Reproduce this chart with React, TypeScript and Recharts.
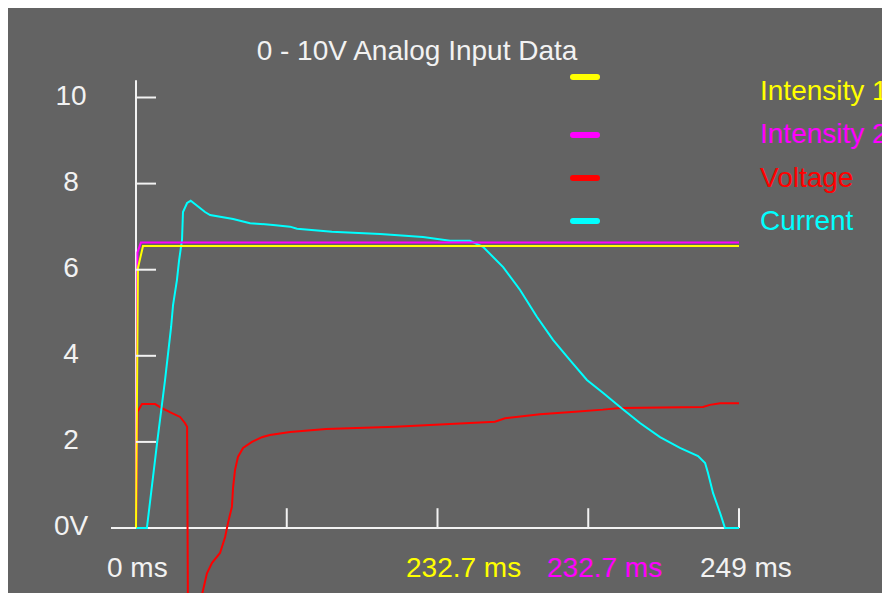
import { LineChart, Line, XAxis, YAxis, ReferenceLine, Legend } from "recharts";

// time (ms) / value (V) pairs
const intensity1T = [0, 0.8, 2.9, 249];
const intensity1V = [0, 6.04, 6.55, 6.55];

const intensity2T = [0, 0.6, 2.0, 249];
const intensity2V = [0, 6.4, 6.63, 6.63];

const voltageT = [
  0, 0.6, 2.5, 7.9, 9.9, 14.0, 18.2, 20.2, 21.1, 21.5, 22.5, 27.7, 29.3, 31.4,
  34.7, 36.8, 38.0, 39.6, 40.1, 40.9, 42.1, 44.2, 47.9, 52.0, 55.3, 63.6, 78.5,
  107.0, 137.9, 148.2, 152.4, 166.8, 181.3, 192.8, 199.9, 234.1, 237.0, 241.2,
  249,
];
const voltageV = [
  0, 2.7, 2.88, 2.88, 2.81, 2.69, 2.58, 2.44, 2.35, -2.7, -2.7, -1.44, -1.05,
  -0.81, -0.58, -0.21, 0.12, 0.49, 0.95, 1.35, 1.65, 1.86, 2.0, 2.11, 2.16,
  2.23, 2.3, 2.35, 2.44, 2.47, 2.55, 2.64, 2.7, 2.75, 2.79, 2.81, 2.86, 2.9,
  2.9,
];

const currentT = [
  0, 4.5, 8.7, 12.0, 14.5, 15.3, 16.9, 17.8, 19.0, 19.4, 21.1, 22.6, 28.5,
  30.6, 40.1, 47.1, 56.6, 63.6, 66.5, 80.9, 100.8, 118.5, 129.7, 137.9, 143.3,
  151.6, 158.6, 165.6, 172.2, 179.2, 186.2, 192.8, 199.9, 208.1, 216.4, 224.6,
  232.1, 235.0, 236.2, 238.3, 241.2, 243.2, 249,
];
const currentV = [
  0, 0, 1.97, 3.44, 4.67, 5.18, 5.76, 6.22, 6.69, 7.34, 7.55, 7.6, 7.34, 7.27,
  7.18, 7.08, 7.04, 7.0, 6.95, 6.88, 6.83, 6.76, 6.67, 6.67, 6.53, 6.06, 5.53,
  4.9, 4.37, 3.9, 3.44, 3.14, 2.81, 2.44, 2.11, 1.86, 1.67, 1.51, 1.28, 0.81,
  0.35, 0, 0,
];

const yTicks = [0, 2, 4, 6, 8, 10];
const xTicks = [62.25, 124.5, 186.75, 249];

const seriesNames = ["Intensity 1", "Intensity 2", "Voltage", "Current"];
const seriesColors = ["#ffff00", "#ff00ff", "#ff0000", "#00ffff"];

const cursorLabels = ["0 ms", "232.7 ms", "232.7 ms", "249 ms"];
const cursorColors = ["#f2f2f2", "#ffff00", "#ff00ff", "#f2f2f2"];

const title = "0 - 10V Analog Input Data";

const toPoints = (t: number[], v: number[]) =>
  t.map((x, i) => ({ t: x, v: v[i] }));

const BG = "#636363";
const FG = "#f2f2f2";
const FONT = "'Liberation Sans', Arial, sans-serif";
const FS = 28;
const PLOT_LEFT = 128;

const YTick = (props: any) => {
  const { x, y, payload } = props;
  const v = payload.value;
  return (
    <g>
      <text
        x={x}
        y={y}
        dy={7}
        textAnchor="middle"
        fill={FG}
        fontSize={FS}
        fontFamily={FONT}
      >
        {v === 0 ? "0V" : v}
      </text>
      <line
        x1={v === 0 ? PLOT_LEFT - 25 : PLOT_LEFT}
        x2={v === 0 ? PLOT_LEFT : PLOT_LEFT + 20}
        y1={y}
        y2={y}
        stroke={FG}
        strokeWidth={2}
      />
    </g>
  );
};

const swatchY = [69, 127, 170, 213];
const legendBase = [92, 135, 179, 222];

const renderLegend = () => (
  <svg width={874} height={260} style={{ display: "block" }}>
    {seriesNames.map((n, i) => (
      <g key={n}>
        <line
          x1={565}
          x2={589}
          y1={swatchY[i]}
          y2={swatchY[i]}
          stroke={seriesColors[i]}
          strokeWidth={6}
          strokeLinecap="round"
        />
        <text
          x={752}
          y={legendBase[i]}
          fill={seriesColors[i]}
          fontSize={FS}
          fontFamily={FONT}
        >
          {n}
        </text>
      </g>
    ))}
  </svg>
);

const labelX = [99, 398, 539, 692];

export default function App() {
  const series = [
    toPoints(intensity1T, intensity1V),
    toPoints(intensity2T, intensity2V),
    toPoints(voltageT, voltageV),
    toPoints(currentT, currentV),
  ];
  // drawing order: voltage, current, intensity 2, intensity 1
  const order = [2, 3, 1, 0];

  return (
    <div
      style={{
        position: "fixed",
        left: 8,
        top: 8,
        right: 0,
        bottom: 0,
        overflow: "hidden",
        background: BG,
      }}
    >
      <LineChart
        width={874}
        height={640}
        margin={{ top: 72, right: 143, bottom: 0, left: 0 }}
      >
        <XAxis
          type="number"
          dataKey="t"
          domain={[0, 249]}
          allowDuplicatedCategory={false}
          hide
        />
        <YAxis
          type="number"
          domain={[-2.787, 10.4065]}
          ticks={yTicks}
          interval={0}
          width={128}
          axisLine={false}
          tickLine={false}
          tickSize={0}
          tickMargin={65}
          tick={YTick}
        />
        <ReferenceLine
          segment={[
            { x: 0, y: 0 },
            { x: 0, y: 10.4 },
          ]}
          stroke={FG}
          strokeWidth={2}
          ifOverflow="visible"
        />
        <ReferenceLine
          segment={[
            { x: 0, y: 0 },
            { x: 249, y: 0 },
          ]}
          stroke={FG}
          strokeWidth={2}
          ifOverflow="visible"
        />
        {xTicks.map((xt) => (
          <ReferenceLine
            key={xt}
            segment={[
              { x: xt, y: 0 },
              { x: xt, y: 0.46 },
            ]}
            stroke={FG}
            strokeWidth={2}
            ifOverflow="visible"
          />
        ))}
        {order.map((i) => (
          <Line
            key={seriesNames[i]}
            data={series[i]}
            dataKey="v"
            name={seriesNames[i]}
            type="linear"
            stroke={seriesColors[i]}
            strokeWidth={2}
            dot={false}
            activeDot={false}
            isAnimationActive={false}
          />
        ))}
        <Legend
          layout="vertical"
          align="center"
          verticalAlign="middle"
          content={renderLegend}
          wrapperStyle={{ left: 0, top: 0, width: 874, height: 260 }}
        />
      </LineChart>
      <svg
        width={874}
        height={585}
        style={{ position: "absolute", left: 0, top: 0, pointerEvents: "none" }}
      >
        <text
          x={409}
          y={52}
          textAnchor="middle"
          fill={FG}
          fontSize={FS}
          fontFamily={FONT}
        >
          {title}
        </text>
        {cursorLabels.map((l, i) => (
          <text
            key={i}
            x={labelX[i]}
            y={569}
            fill={cursorColors[i]}
            fontSize={FS}
            fontFamily={FONT}
          >
            {l}
          </text>
        ))}
      </svg>
    </div>
  );
}
